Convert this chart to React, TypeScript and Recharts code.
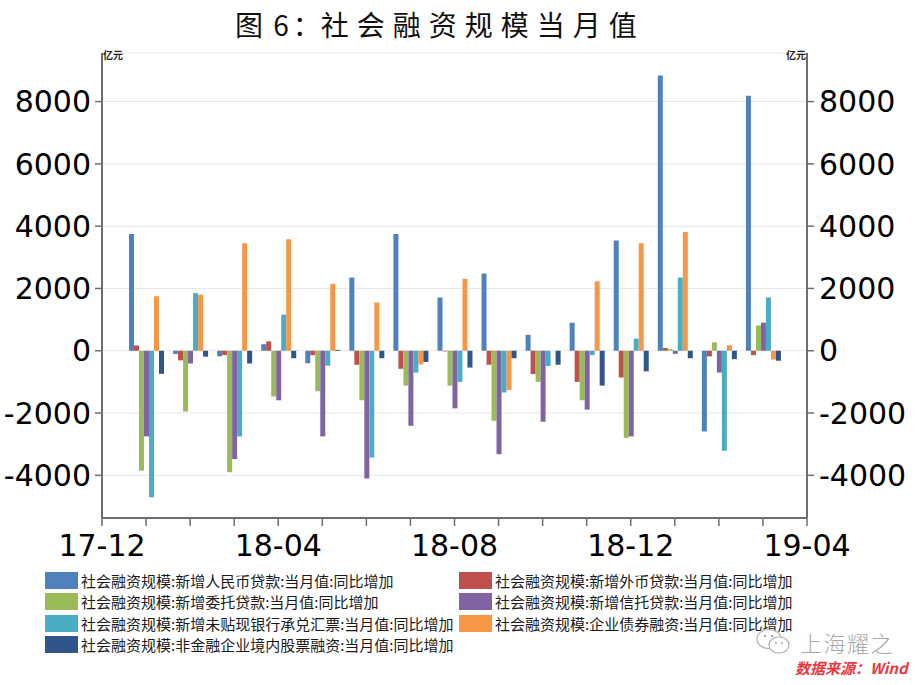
import React from 'react';
import { ComposedChart, Bar, XAxis, YAxis, CartesianGrid } from 'recharts';

const months = ['18-01', '18-02', '18-03', '18-04', '18-05', '18-06', '18-07', '18-08', '18-09', '18-10', '18-11', '18-12', '19-01', '19-02', '19-03'];

const rmbLoans = [3750, -100, -180, 210, -400, 2350, 3750, 1710, 2480, 510, 900, 3540, 8840, -2590, 8190];
const fxLoans = [170, -310, -140, 300, -140, -450, -580, -20, -450, -750, -1000, -860, 90, -180, -140];
const entrustedLoans = [-3850, -1950, -3900, -1470, -1300, -1590, -1120, -1120, -2250, -1000, -1590, -2800, 50, 270, 810];
const trustLoans = [-2750, -410, -3480, -1590, -2750, -4100, -2410, -1850, -3320, -2280, -1890, -2750, -100, -700, 900];
const bankAcceptance = [-4700, 1850, -2750, 1160, -480, -3430, -700, -1000, -1340, -490, -140, 390, 2350, -3210, 1710];
const corporateBonds = [1750, 1800, 3450, 3580, 2150, 1550, -440, 2310, -1260, 0, 2230, 3450, 3810, 180, -280];
const equityFinancing = [-740, -190, -410, -240, 30, -240, -360, -540, -240, -450, -1120, -660, -240, -270, -320];

const xTickPositions = [0, 1, 2, 3, 4, 5, 6, 7, 8, 9, 10, 11, 12, 13, 14, 15, 16];
const xTickLabels: Record<number, string> = { 0: '17-12', 4: '18-04', 8: '18-08', 12: '18-12', 16: '19-04' };
const yMajorTicks = [-4000, -2000, 0, 2000, 4000, 6000, 8000];
const yMinorTicks = [-5333.33, -4666.67, -3333.33, -2666.67, -1333.33, -666.67, 666.67, 1333.33, 2666.67, 3333.33, 4666.67, 5333.33, 6666.67, 7333.33, 8666.67];
const yDomain: [number, number] = [-5370, 9560];

const series = [
  { key: 'rmb', name: '社会融资规模:新增人民币贷款:当月值:同比增加', color: '#4F81BD', values: rmbLoans },
  { key: 'fx', name: '社会融资规模:新增外币贷款:当月值:同比增加', color: '#C0504D', values: fxLoans },
  { key: 'entrusted', name: '社会融资规模:新增委托贷款:当月值:同比增加', color: '#9BBB59', values: entrustedLoans },
  { key: 'trust', name: '社会融资规模:新增信托贷款:当月值:同比增加', color: '#8064A2', values: trustLoans },
  { key: 'accept', name: '社会融资规模:新增未贴现银行承兑汇票:当月值:同比增加', color: '#4BACC6', values: bankAcceptance },
  { key: 'bond', name: '社会融资规模:企业债券融资:当月值:同比增加', color: '#F79646', values: corporateBonds },
  { key: 'equity', name: '社会融资规模:非金融企业境内股票融资:当月值:同比增加', color: '#30558A', values: equityFinancing },
];

// month index 1..15 on a time axis that runs from 17-12 (0) to 19-04 (16)
const rows = months.map((m, i) => {
  const r: Record<string, any> = { month: m, pos: i + 1 };
  series.forEach((s) => { r[s.key] = s.values[i]; });
  return r;
});

const legendLeft = ['rmb', 'entrusted', 'accept', 'equity'];
const legendRight = ['fx', 'trust', 'bond'];

const axisColor = '#6e6e6e';
const tickFont = { fontSize: 30, fontFamily: 'DejaVu Sans, Verdana, sans-serif', fill: '#000' };
const cjk = '"Noto Sans CJK SC", "Noto Sans", sans-serif';

function LegendRow({ s, left, top }: { s: any; left: number; top: number }) {
  return (
    <div style={{ position: 'absolute', left, top, height: 17, display: 'flex', alignItems: 'center', whiteSpace: 'nowrap' }}>
      <div style={{ width: 33, height: 17, background: s.color }} />
      <span style={{ marginLeft: 3, fontFamily: cjk, fontSize: 15, lineHeight: '17px', color: '#1a1a1a' }}>{s.name}</span>
    </div>
  );
}

export default function App() {
  const byKey: Record<string, any> = {};
  series.forEach((s) => { byKey[s.key] = s; });
  return (
    <div style={{ position: 'absolute', left: 0, top: 0, width: 916, height: 685, background: '#fff', overflow: 'hidden' }}>
      <div style={{ position: 'absolute', left: 235, top: 9, fontFamily: cjk, fontSize: 28, lineHeight: '30px', color: '#111', whiteSpace: 'nowrap' }}>
        <span style={{ letterSpacing: 2 }}>图 </span>
        <span style={{ letterSpacing: 4 }}>6</span>
        <span style={{ letterSpacing: 0 }}>：</span>
        <span style={{ letterSpacing: 8 }}>社会融资规模当月值</span>
      </div>
      <ComposedChart
        width={916}
        height={685}
        data={rows}
        margin={{ top: 53, right: 19, bottom: 117, left: 12 }}
        barGap={0}
        barCategoryGap={0}
      >
        <CartesianGrid yAxisId="left" xAxisId="t" vertical={false} stroke="#e8e8e8" />
        <XAxis xAxisId="c" dataKey="month" type="category" hide height={0} padding={{ left: 22, right: 22 }} />
        <XAxis
          xAxisId="t"
          dataKey="pos"
          type="number"
          domain={[0, 16]}
          ticks={xTickPositions}
          interval={0}
          tickFormatter={(v: number) => xTickLabels[v] ?? ''}
          height={50}
          tickSize={8}
          tickMargin={9}
          stroke={axisColor}
          axisLine={{ stroke: axisColor, strokeWidth: 2 }}
          tickLine={{ stroke: axisColor, strokeWidth: 1.5 }}
          tick={tickFont}
        />
        <YAxis
          yAxisId="left"
          orientation="left"
          type="number"
          domain={yDomain}
          allowDataOverflow
          ticks={yMajorTicks}
          interval={0}
          width={90}
          tickSize={7}
          tickMargin={4}
          axisLine={{ stroke: axisColor, strokeWidth: 2 }}
          tickLine={{ stroke: axisColor, strokeWidth: 1.5 }}
          tick={tickFont}
        />
        <YAxis
          yAxisId="leftMinor"
          orientation="left"
          mirror
          type="number"
          domain={yDomain}
          allowDataOverflow
          ticks={yMinorTicks}
          interval={0}
          width={0}
          tickSize={4}
          axisLine={false}
          tickLine={{ stroke: axisColor, strokeWidth: 1.5 }}
          tick={false}
        />
        <YAxis
          yAxisId="right"
          orientation="right"
          type="number"
          domain={yDomain}
          allowDataOverflow
          ticks={yMajorTicks}
          interval={0}
          width={90}
          tickSize={7}
          tickMargin={5}
          axisLine={{ stroke: axisColor, strokeWidth: 2 }}
          tickLine={{ stroke: axisColor, strokeWidth: 1.5 }}
          tick={tickFont}
        />
        <YAxis
          yAxisId="rightMinor"
          orientation="right"
          mirror
          type="number"
          domain={yDomain}
          allowDataOverflow
          ticks={yMinorTicks}
          interval={0}
          width={0}
          tickSize={4}
          axisLine={false}
          tickLine={{ stroke: axisColor, strokeWidth: 1.5 }}
          tick={false}
        />
        {series.map((s) => (
          <Bar
            key={s.key}
            dataKey={s.key}
            name={s.name}
            xAxisId="c"
            yAxisId="left"
            fill={s.color}
            barSize={5}
            isAnimationActive={false}
          />
        ))}
      </ComposedChart>
      <div style={{ position: 'absolute', left: 103, top: 47, fontFamily: cjk, fontSize: 10, fontWeight: 700, color: '#222' }}>亿元</div>
      <div style={{ position: 'absolute', left: 786, top: 47, fontFamily: cjk, fontSize: 10, fontWeight: 700, color: '#222' }}>亿元</div>
      {legendLeft.map((k, i) => (
        <LegendRow key={k} s={byKey[k]} left={45} top={572 + i * 21.3} />
      ))}
      {legendRight.map((k, i) => (
        <LegendRow key={k} s={byKey[k]} left={459} top={572 + i * 21.3} />
      ))}
      <svg style={{ position: 'absolute', left: 755, top: 628 }} width={40} height={30}>
        <ellipse cx={14} cy={11} rx={12} ry={9.5} fill="#fff" stroke="#b0b0b0" strokeWidth={1.2} />
        <ellipse cx={24} cy={17} rx={10} ry={8} fill="#fff" stroke="#b0b0b0" strokeWidth={1.2} />
        <circle cx={10} cy={8} r={1.3} fill="#b0b0b0" />
        <circle cx={17} cy={8} r={1.3} fill="#b0b0b0" />
        <circle cx={21} cy={15} r={1.1} fill="#b0b0b0" />
        <circle cx={27} cy={15} r={1.1} fill="#b0b0b0" />
      </svg>
      <div style={{ position: 'absolute', left: 800, top: 630, fontFamily: cjk, fontSize: 22, lineHeight: '24px', fontWeight: 300, color: '#a8a8a8', letterSpacing: 1.5, whiteSpace: 'nowrap' }}>上海耀之</div>
      <div style={{ position: 'absolute', left: 795, top: 660, fontFamily: cjk, fontSize: 15, fontWeight: 700, fontStyle: 'italic', color: '#e8383d', lineHeight: '16px', whiteSpace: 'nowrap' }}>数据来源：Wind</div>
    </div>
  );
}
